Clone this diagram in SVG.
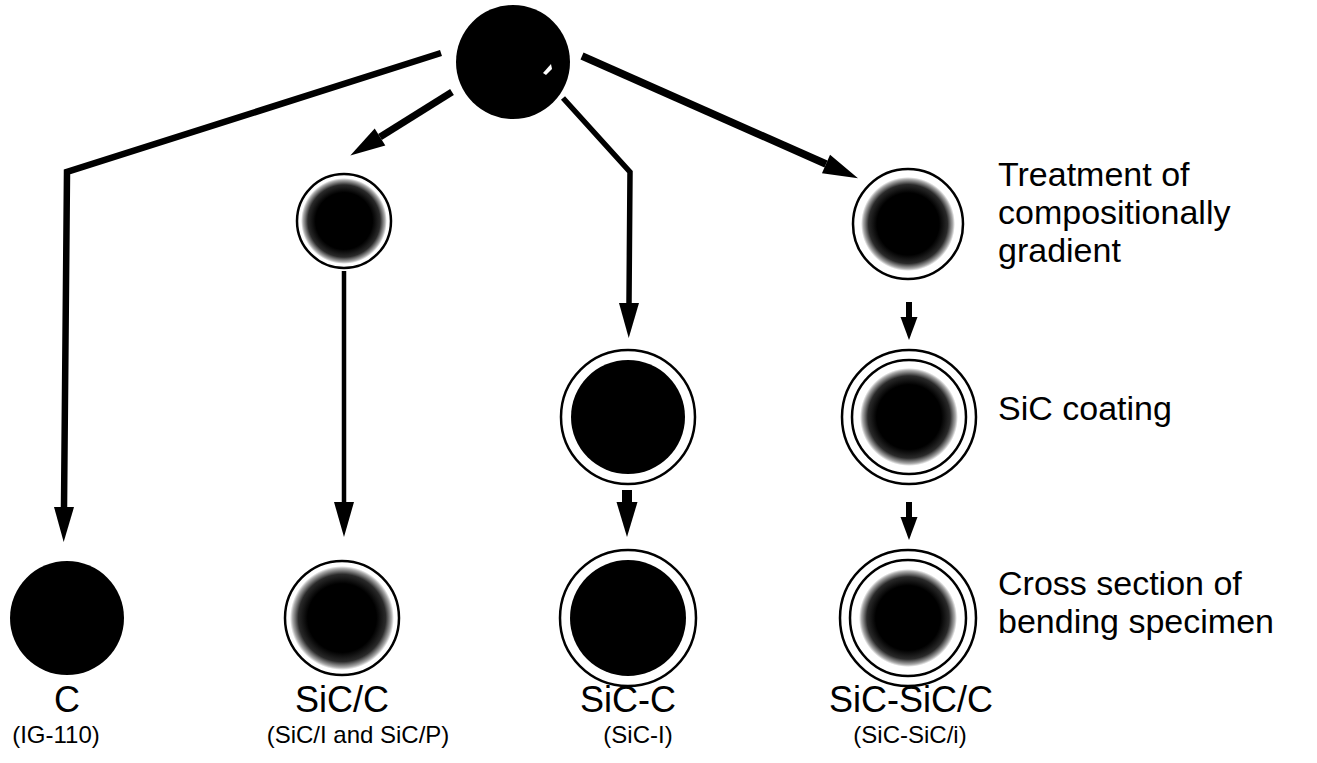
<svg xmlns="http://www.w3.org/2000/svg" width="1317" height="763" viewBox="0 0 1317 763">
<style>
.ring{fill:#fff;stroke:#000;stroke-width:2.5}
.solid{fill:#000}
.core{fill:url(#grad)}
.conn{fill:none;stroke:#000;stroke-linejoin:miter}
.lbl{font-family:"Liberation Sans",Arial,sans-serif;fill:#000}
.big{font-size:36px}
.side{font-size:34px}
.small{font-size:24px}
</style>
<defs>
<radialGradient id="grad" cx="0.5" cy="0.5" r="0.5">
<stop offset="0" stop-color="#000"/>
<stop offset="0.66" stop-color="#000"/>
<stop offset="0.84" stop-color="#2a2a2a"/>
<stop offset="0.95" stop-color="#aaa"/>
<stop offset="1" stop-color="#fff"/>
</radialGradient>
<marker id="ah" markerUnits="userSpaceOnUse" markerWidth="40" markerHeight="24" viewBox="0 -12 40 24" refX="0" refY="0" orient="auto" overflow="visible"><path d="M0,-10 L35,0 L0,10 Z" fill="#000"/></marker>
<marker id="ahm" markerUnits="userSpaceOnUse" markerWidth="40" markerHeight="24" viewBox="0 -12 40 24" refX="0" refY="0" orient="auto" overflow="visible"><path d="M0,-10.5 L35,0 L0,10.5 Z" fill="#000"/></marker>
<marker id="ahs" markerUnits="userSpaceOnUse" markerWidth="30" markerHeight="20" viewBox="0 -10 30 20" refX="0" refY="0" orient="auto" overflow="visible"><path d="M0,-8.5 L23,0 L0,8.5 Z" fill="#000"/></marker>
</defs>

<g id="connectors">
<path class="conn" d="M441,53 L67,172 L64,507" stroke-width="6.5" marker-end="url(#ah)"/>
<path class="conn" d="M452,92 L380,137" stroke-width="7" marker-end="url(#ah)"/>
<path class="conn" d="M344,271 L344,502" stroke-width="4.5" marker-end="url(#ah)"/>
<path class="conn" d="M563,98 L630,172 L629,303" stroke-width="5.5" marker-end="url(#ah)"/>
<path class="conn" d="M582,56 L826,164" stroke-width="7.5" marker-end="url(#ah)"/>
<path class="conn" d="M627,490 L627,502" stroke-width="10" marker-end="url(#ahm)"/>
<path class="conn" d="M909,302 L909,317" stroke-width="6" marker-end="url(#ahs)"/>
<path class="conn" d="M909,502 L909,517" stroke-width="6" marker-end="url(#ahs)"/>
</g>

<g id="node-top">
<circle class="solid" cx="513" cy="62" r="57"/>
<path d="M543,73 L551,64 L552,69 L546,75 Z" fill="#fff"/>
</g>

<g id="node-C">
<circle class="solid" cx="67" cy="618" r="57"/>
<text class="lbl big" x="67" y="712" text-anchor="middle">C</text>
<text class="lbl small" x="56" y="743" text-anchor="middle">(IG-110)</text>
</g>

<g id="node-SiC-C-gradient-top">
<circle class="ring" cx="344" cy="221" r="47"/>
<circle class="core" cx="344" cy="221" r="43"/>
</g>

<g id="node-SiC-slash-C">
<circle class="ring" cx="342" cy="618" r="57"/>
<circle class="core" cx="342" cy="618" r="52"/>
<text class="lbl big" x="342" y="712" text-anchor="middle">SiC/C</text>
<text class="lbl small" x="358" y="743" text-anchor="middle">(SiC/I and SiC/P)</text>
</g>

<g id="node-SiC-C-coating">
<circle class="ring" cx="628" cy="417" r="67"/>
<circle class="solid" cx="628" cy="417" r="57"/>
</g>

<g id="node-SiC-dash-C">
<circle class="ring" cx="628" cy="618" r="68"/>
<circle class="solid" cx="628" cy="618" r="58"/>
<text class="lbl big" x="628" y="712" text-anchor="middle">SiC-C</text>
<text class="lbl small" x="638" y="743" text-anchor="middle">(SiC-I)</text>
</g>

<g id="node-right-gradient">
<circle class="ring" cx="908" cy="224" r="55"/>
<circle class="core" cx="908" cy="224" r="47"/>
</g>

<g id="node-right-coating">
<circle class="ring" cx="909" cy="417" r="67"/>
<circle class="ring" cx="909" cy="417" r="57"/>
<circle class="core" cx="909" cy="417" r="49"/>
</g>

<g id="node-SiC-SiC-C">
<circle class="ring" cx="908" cy="618" r="68"/>
<circle class="ring" cx="908" cy="618" r="58"/>
<circle class="core" cx="908" cy="618" r="49"/>
<text class="lbl big" x="911" y="712" text-anchor="middle">SiC-SiC/C</text>
<text class="lbl small" x="910" y="743" text-anchor="middle">(SiC-SiC/i)</text>
</g>

<g id="step-labels">
<text class="lbl side" x="998" y="186">Treatment of</text>
<text class="lbl side" x="998" y="224">compositionally</text>
<text class="lbl side" x="998" y="262">gradient</text>
<text class="lbl side" x="998" y="420">SiC coating</text>
<text class="lbl side" x="998" y="595">Cross section of</text>
<text class="lbl side" x="998" y="633">bending specimen</text>
</g>
</svg>
